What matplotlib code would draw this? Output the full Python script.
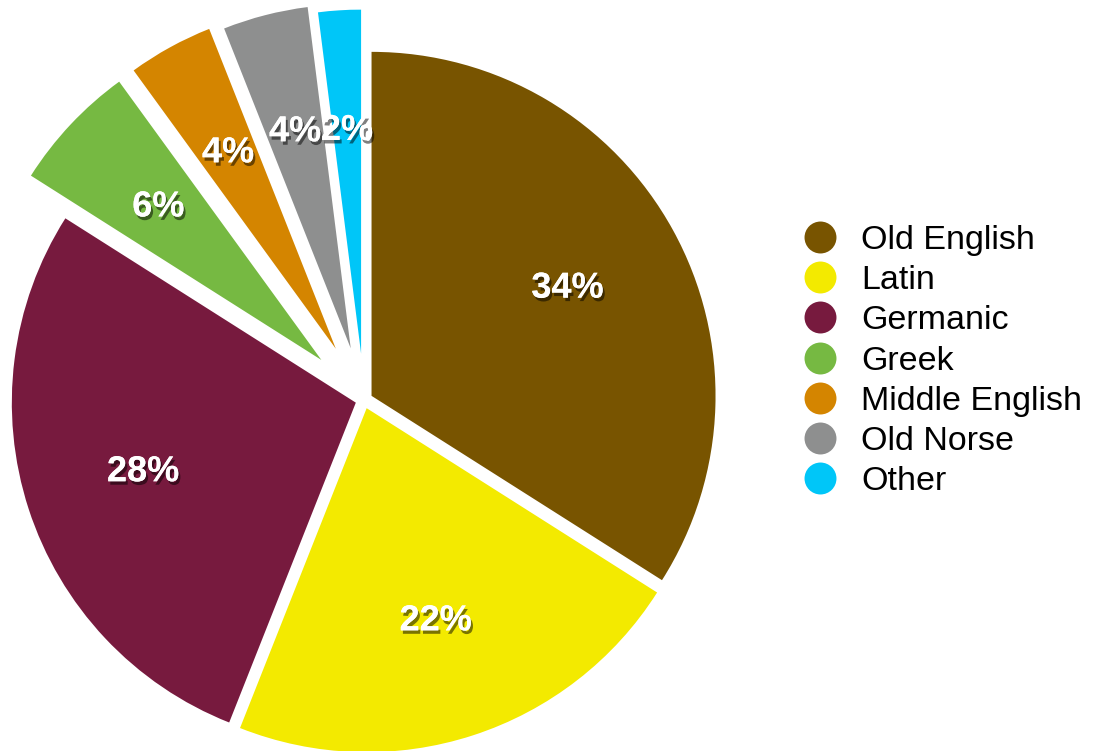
import matplotlib
matplotlib.use("Agg")
import matplotlib.pyplot as plt
import matplotlib.patheffects as pe
from matplotlib.lines import Line2D

plt.rcParams['font.family'] = ['Liberation Sans', 'DejaVu Sans']

languages = ['Old English', 'Latin', 'Germanic', 'Greek', 'Middle English', 'Old Norse', 'Other']
shares = [34, 22, 28, 6, 4, 4, 2]
colors = ['#785400', '#F3EA00', '#771A3E', '#76B942', '#D48500', '#8E8F8F', '#00C6F8']
explode = [0.025, 0.025, 0.025, 0.17, 0.17, 0.155, 0.135]

W, H = 1107, 751
cx, cy, R = 364, 400, 344

fig = plt.figure(figsize=(W / 100, H / 100), dpi=100)
ax = fig.add_axes([0, 0, 1, 1])

wedges, texts, autotexts = ax.pie(
    shares, colors=colors, explode=explode, startangle=90, counterclock=False,
    autopct='%d%%', pctdistance=0.65, radius=1,
    textprops=dict(color='white', fontsize=26, fontweight='bold'))

shadow = [pe.withSimplePatchShadow(offset=(1.5, -2.5), shadow_rgbFace='black', alpha=0.5),
          pe.Normal()]
for t in autotexts:
    t.set_path_effects(shadow)

ax.set_xlim(-cx / R, (W - cx) / R)
ax.set_ylim(-(H - cy) / R, cy / R)
ax.set_aspect('auto')
ax.axis('off')

handles = [Line2D([], [], marker='o', linestyle='none', markersize=23,
                  markerfacecolor=c, markeredgecolor='none') for c in colors]
fig.legend(handles, languages, loc='center left', bbox_to_anchor=(800 / W, 1 - 361 / H),
           frameon=False, fontsize=24.5, handlelength=1.2, handletextpad=0.6,
           labelspacing=0.27, borderpad=0, borderaxespad=0)

fig.savefig('out.png', dpi=100)
